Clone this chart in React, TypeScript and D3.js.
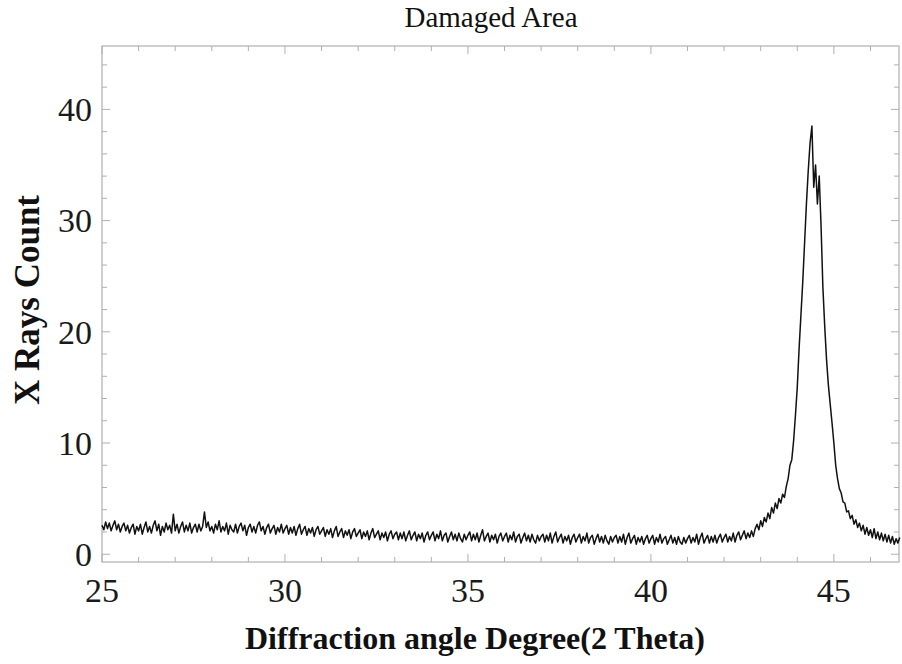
import React from "react";
import * as d3 from "d3";

const angleStart = 25;
const angleStep = 0.05;

const counts25 = [2.6, 2.2, 2.9, 2.3, 2.8, 2.1, 2.6, 3.0, 2.2, 2.7, 2.0, 2.5, 2.8, 2.1, 2.6, 1.9, 2.4, 2.7, 1.8, 2.5];
const counts26 = [2.1, 2.7, 1.8, 2.4, 2.9, 2.0, 2.5, 1.9, 2.6, 3.0, 2.1, 2.7, 1.7, 2.5, 2.0, 2.8, 2.2, 2.6, 1.9, 3.6];
const counts27 = [2.1, 2.7, 1.9, 2.5, 2.9, 2.0, 2.6, 2.1, 2.8, 1.9, 2.4, 2.7, 2.0, 2.7, 2.1, 2.5, 3.8, 2.4, 2.9, 2.1];
const counts28 = [2.5, 1.9, 2.7, 2.2, 3.0, 2.0, 2.5, 2.1, 2.8, 1.8, 2.6, 2.2, 2.0, 2.7, 1.9, 2.5, 2.8, 2.1, 2.6, 1.7];
const counts29 = [2.4, 2.7, 2.0, 2.5, 1.9, 2.6, 2.9, 2.1, 2.5, 1.8, 2.4, 2.7, 1.9, 2.3, 2.6, 1.8, 2.4, 2.0, 2.7, 1.9];
const counts30 = [2.3, 2.6, 1.8, 2.4, 1.9, 2.5, 1.7, 2.3, 2.7, 1.8, 2.2, 2.5, 1.7, 2.3, 1.9, 2.4, 1.6, 2.2, 2.5, 1.8];
const counts31 = [2.1, 2.4, 1.6, 2.2, 1.8, 2.3, 1.5, 2.1, 2.5, 1.6, 2.0, 2.3, 1.5, 2.1, 1.7, 2.2, 1.4, 2.0, 2.3, 1.6];
const counts32 = [1.9, 2.2, 1.4, 2.0, 1.6, 2.1, 1.3, 1.9, 2.3, 1.5, 1.8, 2.1, 1.3, 1.9, 1.5, 2.0, 1.2, 1.8, 2.1, 1.4];
const counts33 = [1.8, 2.0, 1.3, 1.9, 1.4, 2.0, 1.2, 1.7, 2.1, 1.3, 1.7, 2.0, 1.2, 1.8, 1.4, 1.9, 1.1, 1.7, 2.0, 1.3];
const counts34 = [1.7, 2.0, 1.2, 1.8, 1.4, 2.1, 1.2, 1.7, 1.9, 1.1, 1.6, 2.0, 1.3, 1.8, 1.2, 1.9, 1.4, 1.1, 1.8, 1.3];
const counts35 = [1.7, 2.0, 1.2, 1.8, 1.3, 1.9, 1.1, 1.7, 2.2, 1.2, 1.6, 1.9, 1.1, 1.7, 1.3, 1.8, 1.0, 1.6, 1.9, 1.2];
const counts36 = [1.6, 1.9, 1.1, 1.7, 1.3, 2.0, 1.1, 1.6, 1.8, 1.0, 1.5, 1.9, 1.2, 1.7, 1.1, 1.8, 1.3, 1.0, 1.7, 1.2];
const counts37 = [1.6, 1.8, 1.1, 1.7, 1.2, 1.9, 1.0, 1.6, 2.0, 1.1, 1.5, 1.8, 1.0, 1.6, 1.2, 1.7, 0.9, 1.5, 1.8, 1.1];
const counts38 = [1.5, 1.8, 1.0, 1.6, 1.2, 1.9, 1.0, 1.5, 1.7, 0.9, 1.4, 1.8, 1.1, 1.6, 1.0, 1.7, 1.2, 0.9, 1.6, 1.1];
const counts39 = [1.5, 1.7, 1.0, 1.6, 1.1, 1.8, 0.9, 1.5, 1.9, 1.0, 1.4, 1.7, 0.9, 1.5, 1.1, 1.6, 0.9, 1.4, 1.7, 1.0];
const counts40 = [1.4, 1.7, 0.9, 1.5, 1.1, 1.8, 1.0, 1.4, 1.6, 0.9, 1.3, 1.7, 1.0, 1.5, 0.9, 1.6, 1.1, 0.9, 1.5, 1.0];
const counts41 = [1.4, 1.7, 1.0, 1.5, 1.1, 1.8, 0.9, 1.5, 1.9, 1.0, 1.4, 1.7, 1.0, 1.6, 1.1, 1.7, 1.0, 1.5, 1.8, 1.1];
const counts42 = [1.5, 1.8, 1.1, 1.6, 1.2, 1.9, 1.1, 1.7, 2.0, 1.3, 1.7, 2.1, 1.4, 1.9, 1.5, 2.1, 1.6, 2.3, 2.7, 2.2];
const counts43 = [3.0, 2.5, 3.3, 2.9, 3.7, 3.2, 4.2, 3.7, 4.6, 4.1, 5.0, 4.6, 5.4, 5.1, 6.1, 6.8, 8.0, 8.5, 10.2, 12.5];
const counts44 = [15.0, 18.5, 21.5, 24.5, 28.0, 31.5, 34.5, 37.0, 38.5, 33.0, 35.0, 31.5, 34.0, 29.5, 24.0, 20.5, 17.5, 15.2, 13.5, 11.8];
const counts45 = [10.0, 8.0, 6.8, 5.9, 5.5, 4.7, 4.6, 3.8, 3.9, 3.2, 3.5, 2.7, 3.1, 2.4, 2.8, 2.1, 2.6, 1.8, 2.4, 1.7];
const counts46 = [2.2, 1.5, 2.3, 1.4, 2.0, 1.3, 1.9, 1.2, 1.8, 1.1, 1.7, 1.0, 1.6, 0.9, 1.4, 1.0, 1.5];

const xTickValues = [25, 30, 35, 40, 45];
const yTickValues = [0, 10, 20, 30, 40];
const xMinorTicks = [25, 26, 27, 28, 29, 30, 31, 32, 33, 34, 35, 36, 37, 38, 39, 40, 41, 42, 43, 44, 45, 46];
const yMinorTicks = [0, 2, 4, 6, 8, 10, 12, 14, 16, 18, 20, 22, 24, 26, 28, 30, 32, 34, 36, 38, 40, 42, 44];

const titleText = "Damaged Area";
const xTitle = "Diffraction angle Degree(2 Theta)";
const yTitle = "X Rays Count";

const allCounts = [
  ...counts25, ...counts26, ...counts27, ...counts28, ...counts29,
  ...counts30, ...counts31, ...counts32, ...counts33, ...counts34,
  ...counts35, ...counts36, ...counts37, ...counts38, ...counts39,
  ...counts40, ...counts41, ...counts42, ...counts43, ...counts44,
  ...counts45, ...counts46,
];
const data = allCounts.map((c, i) => ({ angle: angleStart + i * angleStep, count: c }));

const FONT = "'Liberation Serif', 'Times New Roman', serif";

export default function App() {
  const left = 102, right = 899, top = 46, bottom = 562;
  const x = d3.scaleLinear().domain([25, 46.78]).range([left, right]);
  const y = d3.scaleLinear().domain([-0.7, 45.7]).range([bottom, top]);
  const line = d3.line<{ angle: number; count: number }>()
    .x((d) => x(d.angle))
    .y((d) => y(d.count));
  const frame = "#b0b0b0";
  const major = 8, minor = 5;
  return (
    <div style={{ position: "absolute", left: 0, top: 0 }}>
      <svg width={902} height={664} style={{ display: "block", background: "#fff" }}>
        <text x={491} y={27} textAnchor="middle" fontFamily={FONT} fontSize={29} fill="#111">{titleText}</text>
        <rect x={left} y={top} width={right - left} height={bottom - top} fill="none" stroke={frame} strokeWidth={1.2} />
        {xMinorTicks.map((t) => {
          const isMajor = xTickValues.includes(t);
          const len = isMajor ? major : minor;
          return (
            <g key={"xt" + t}>
              <line x1={x(t)} x2={x(t)} y1={bottom} y2={bottom - len} stroke={frame} strokeWidth={1} />
              <line x1={x(t)} x2={x(t)} y1={top} y2={top + len} stroke={frame} strokeWidth={1} />
            </g>
          );
        })}
        {yMinorTicks.map((t) => {
          const isMajor = yTickValues.includes(t);
          const len = isMajor ? major : minor;
          return (
            <g key={"yt" + t}>
              <line x1={left} x2={left + len} y1={y(t)} y2={y(t)} stroke={frame} strokeWidth={1} />
              <line x1={right} x2={right - len} y1={y(t)} y2={y(t)} stroke={frame} strokeWidth={1} />
            </g>
          );
        })}
        {xTickValues.map((t) => (
          <text key={"xl" + t} x={x(t)} y={602} textAnchor="middle" fontFamily={FONT} fontSize={34} fill="#1a1a1a">{t}</text>
        ))}
        {yTickValues.map((t) => (
          <text key={"yl" + t} x={92} y={y(t)} dy="0.35em" textAnchor="end" fontFamily={FONT} fontSize={34} fill="#1a1a1a">{t}</text>
        ))}
        <path d={line(data) || ""} fill="none" stroke="#111" strokeWidth={1.5} strokeLinejoin="round" />
        <text x={475} y={649} textAnchor="middle" fontFamily={FONT} fontWeight="bold" fontSize={32} fill="#111">{xTitle}</text>
        <text transform={`translate(39, 300) rotate(-90)`} textAnchor="middle" fontFamily={FONT} fontWeight="bold" fontSize={35} fill="#111">{yTitle}</text>
      </svg>
    </div>
  );
}
